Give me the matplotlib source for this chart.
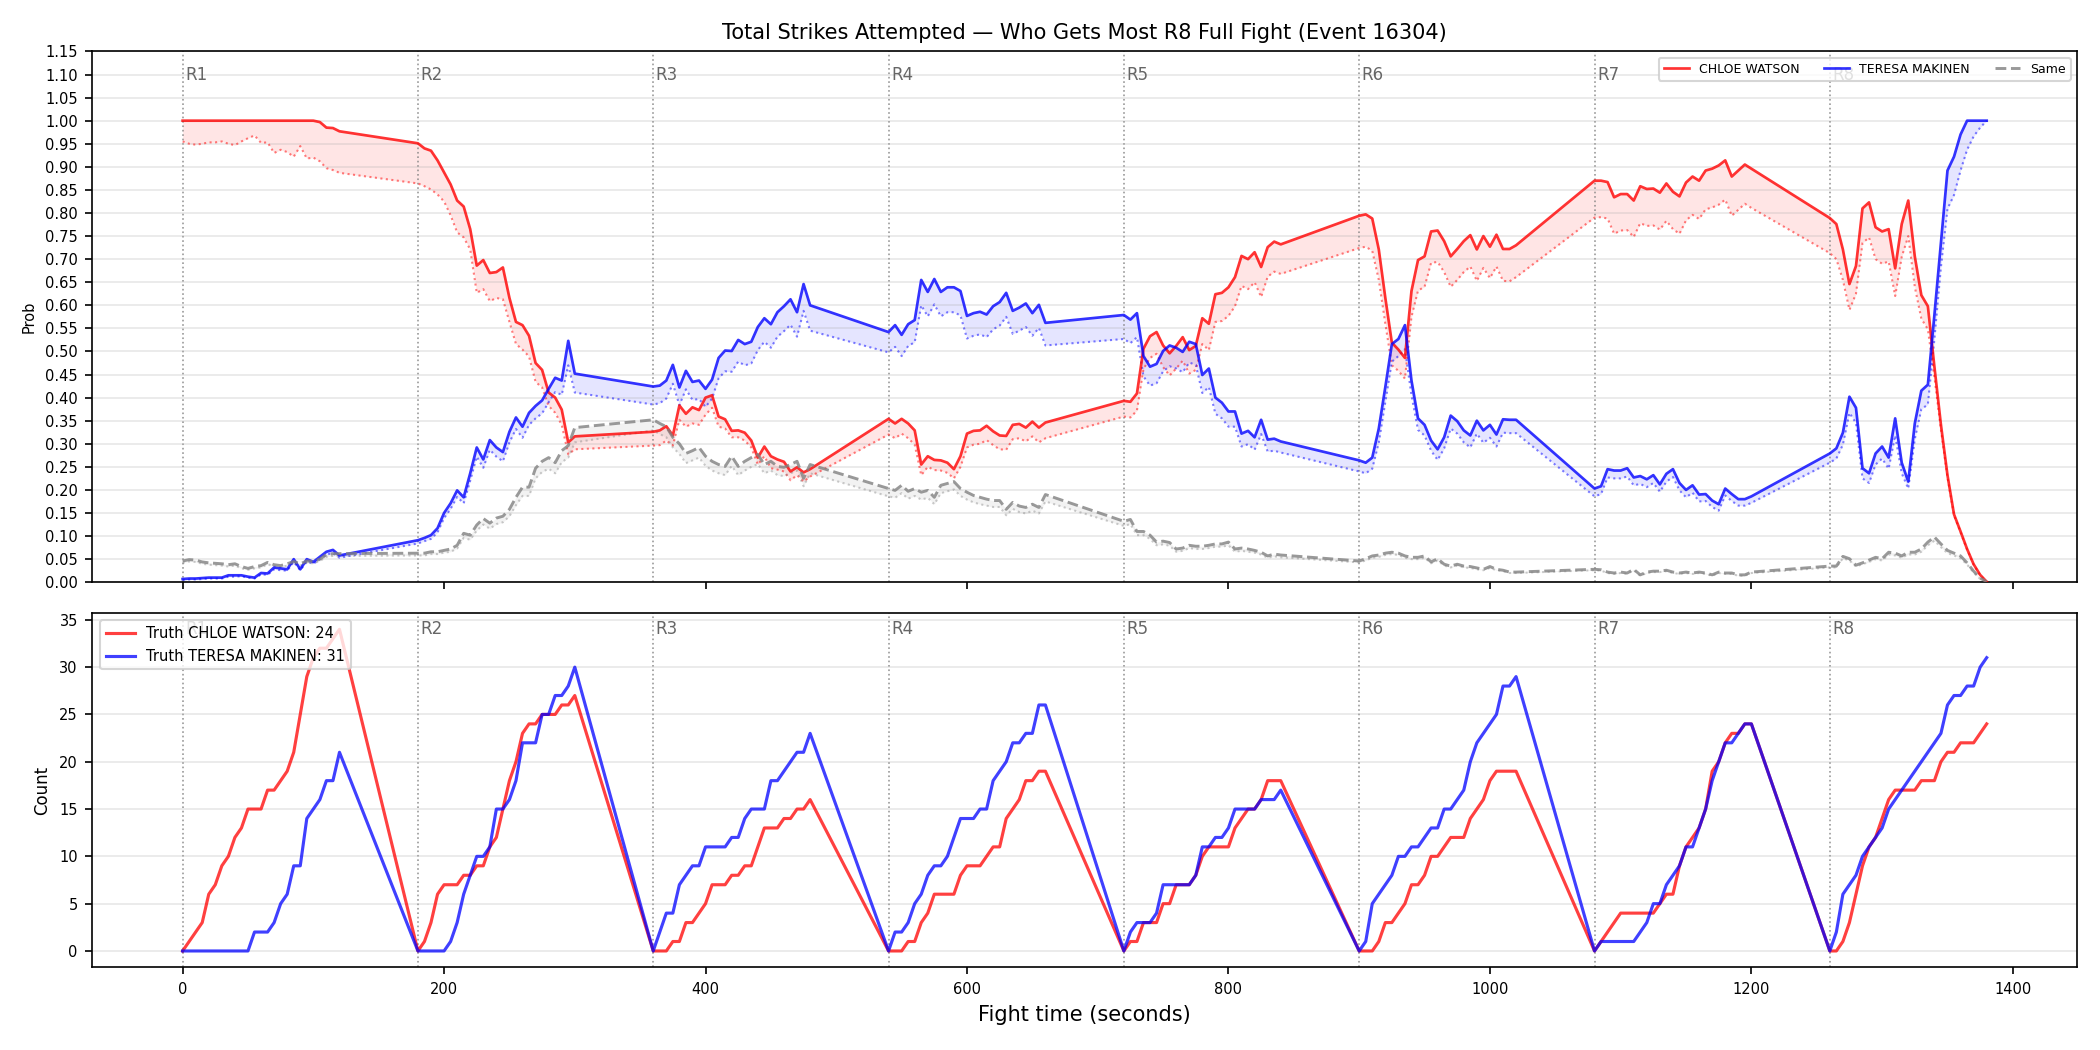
import numpy as np
import matplotlib.pyplot as plt

# time grid: 8 rounds of 180 s, samples every 5 s over the first 120 s of each round
round_starts = [0, 180, 360, 540, 720, 900, 1080, 1260]
round_names = ["R1", "R2", "R3", "R4", "R5", "R6", "R7", "R8"]
sample_offsets = list(range(0, 121, 5))

name_a = "CHLOE WATSON"
name_b = "TERESA MAKINEN"

# win probability, CHLOE WATSON (solid) and its lower bound (dotted)
prob_a = [
    1.0, 1.0, 1.0, 1.0, 1.0, 1.0, 1.0, 1.0, 1.0, 1.0, 1.0, 1.0, 1.0, 1.0, 1.0, 1.0, 1.0, 1.0, 1.0, 1.0, 1.0, 0.997, 0.985, 0.984, 0.977,
    0.951, 0.940, 0.935, 0.914, 0.888, 0.862, 0.827, 0.814, 0.765, 0.686, 0.698, 0.670, 0.672, 0.682, 0.616, 0.564, 0.557, 0.534, 0.475, 0.460, 0.411, 0.400, 0.374, 0.303, 0.316,
    0.326, 0.329, 0.338, 0.318, 0.383, 0.365, 0.379, 0.373, 0.400, 0.405, 0.359, 0.353, 0.328, 0.329, 0.324, 0.307, 0.270, 0.294, 0.273, 0.266, 0.261, 0.240, 0.249, 0.238, 0.245,
    0.354, 0.344, 0.354, 0.344, 0.329, 0.255, 0.273, 0.265, 0.264, 0.259, 0.245, 0.273, 0.322, 0.328, 0.329, 0.339, 0.327, 0.318, 0.317, 0.341, 0.343, 0.335, 0.348, 0.335, 0.346,
    0.393, 0.391, 0.409, 0.506, 0.533, 0.542, 0.513, 0.496, 0.512, 0.531, 0.503, 0.512, 0.572, 0.560, 0.624, 0.627, 0.639, 0.661, 0.707, 0.700, 0.715, 0.683, 0.726, 0.738, 0.732,
    0.794, 0.797, 0.788, 0.721, 0.616, 0.519, 0.504, 0.486, 0.631, 0.698, 0.706, 0.760, 0.762, 0.739, 0.706, 0.722, 0.739, 0.752, 0.721, 0.750, 0.727, 0.753, 0.722, 0.722, 0.730,
    0.870, 0.870, 0.867, 0.834, 0.841, 0.841, 0.827, 0.858, 0.852, 0.853, 0.844, 0.864, 0.846, 0.836, 0.866, 0.879, 0.870, 0.892, 0.896, 0.903, 0.914, 0.879, 0.892, 0.905, 0.896,
    0.789, 0.776, 0.721, 0.646, 0.685, 0.810, 0.823, 0.769, 0.760, 0.765, 0.680, 0.776, 0.827, 0.706, 0.622, 0.598, 0.467, 0.341, 0.232, 0.147, 0.110, 0.072, 0.039, 0.016, 0.001,
]
low_a = [
    0.955, 0.950, 0.948, 0.950, 0.953, 0.953, 0.955, 0.950, 0.947, 0.955, 0.962, 0.968, 0.952, 0.953, 0.930, 0.937, 0.932, 0.922, 0.945, 0.918, 0.920, 0.912, 0.897, 0.893, 0.887,
    0.864, 0.858, 0.851, 0.840, 0.825, 0.795, 0.758, 0.747, 0.721, 0.627, 0.635, 0.609, 0.616, 0.613, 0.564, 0.516, 0.504, 0.489, 0.434, 0.422, 0.382, 0.367, 0.341, 0.277, 0.288,
    0.296, 0.297, 0.307, 0.296, 0.352, 0.337, 0.344, 0.341, 0.363, 0.378, 0.337, 0.333, 0.314, 0.314, 0.307, 0.292, 0.255, 0.273, 0.247, 0.244, 0.240, 0.221, 0.232, 0.218, 0.229,
    0.320, 0.312, 0.322, 0.312, 0.298, 0.232, 0.250, 0.243, 0.242, 0.237, 0.225, 0.250, 0.292, 0.298, 0.300, 0.308, 0.297, 0.288, 0.287, 0.310, 0.312, 0.305, 0.316, 0.303, 0.312,
    0.359, 0.357, 0.372, 0.462, 0.486, 0.495, 0.466, 0.448, 0.463, 0.480, 0.452, 0.460, 0.516, 0.503, 0.564, 0.566, 0.577, 0.598, 0.642, 0.635, 0.650, 0.618, 0.662, 0.673, 0.668,
    0.724, 0.727, 0.718, 0.655, 0.560, 0.470, 0.458, 0.441, 0.575, 0.632, 0.640, 0.692, 0.694, 0.672, 0.640, 0.655, 0.672, 0.684, 0.653, 0.681, 0.659, 0.684, 0.653, 0.652, 0.661,
    0.790, 0.791, 0.788, 0.755, 0.762, 0.763, 0.748, 0.778, 0.772, 0.773, 0.764, 0.783, 0.765, 0.755, 0.784, 0.796, 0.787, 0.808, 0.812, 0.818, 0.829, 0.794, 0.807, 0.820, 0.811,
    0.713, 0.700, 0.655, 0.590, 0.625, 0.735, 0.747, 0.700, 0.690, 0.695, 0.620, 0.705, 0.750, 0.640, 0.571, 0.548, 0.445, 0.330, 0.227, 0.145, 0.108, 0.071, 0.038, 0.015, 0.001,
]

# win probability, TERESA MAKINEN
prob_b = [
    0.007, 0.008, 0.008, 0.009, 0.010, 0.010, 0.010, 0.015, 0.015, 0.015, 0.012, 0.010, 0.020, 0.019, 0.032, 0.030, 0.028, 0.050, 0.028, 0.050, 0.044, 0.055, 0.066, 0.070, 0.058,
    0.091, 0.096, 0.102, 0.117, 0.150, 0.171, 0.199, 0.184, 0.236, 0.292, 0.266, 0.308, 0.292, 0.282, 0.326, 0.357, 0.337, 0.367, 0.382, 0.394, 0.419, 0.443, 0.437, 0.523, 0.452,
    0.424, 0.426, 0.437, 0.471, 0.422, 0.458, 0.434, 0.437, 0.419, 0.439, 0.486, 0.502, 0.501, 0.525, 0.516, 0.521, 0.553, 0.572, 0.559, 0.585, 0.598, 0.613, 0.585, 0.646, 0.600,
    0.542, 0.557, 0.536, 0.559, 0.568, 0.655, 0.629, 0.657, 0.629, 0.639, 0.639, 0.631, 0.577, 0.583, 0.586, 0.580, 0.598, 0.607, 0.627, 0.588, 0.595, 0.604, 0.583, 0.601, 0.562,
    0.579, 0.569, 0.583, 0.490, 0.467, 0.473, 0.501, 0.513, 0.508, 0.499, 0.521, 0.516, 0.449, 0.463, 0.400, 0.389, 0.370, 0.370, 0.322, 0.328, 0.314, 0.352, 0.309, 0.311, 0.305,
    0.264, 0.259, 0.270, 0.333, 0.423, 0.516, 0.527, 0.557, 0.437, 0.355, 0.341, 0.307, 0.288, 0.314, 0.361, 0.349, 0.329, 0.318, 0.350, 0.329, 0.341, 0.320, 0.353, 0.352, 0.352,
    0.203, 0.208, 0.245, 0.242, 0.242, 0.247, 0.227, 0.230, 0.223, 0.232, 0.212, 0.235, 0.245, 0.215, 0.200, 0.210, 0.190, 0.191, 0.177, 0.169, 0.203, 0.191, 0.180, 0.180, 0.186,
    0.279, 0.290, 0.324, 0.402, 0.378, 0.247, 0.236, 0.279, 0.294, 0.270, 0.355, 0.259, 0.218, 0.344, 0.415, 0.428, 0.579, 0.735, 0.892, 0.922, 0.970, 1.000, 1.000, 1.000, 1.000,
]
low_b = [
    0.005, 0.006, 0.006, 0.007, 0.008, 0.008, 0.008, 0.012, 0.012, 0.013, 0.010, 0.008, 0.017, 0.016, 0.028, 0.026, 0.025, 0.044, 0.026, 0.045, 0.040, 0.050, 0.060, 0.063, 0.053,
    0.084, 0.089, 0.094, 0.108, 0.139, 0.159, 0.185, 0.171, 0.220, 0.272, 0.248, 0.287, 0.272, 0.262, 0.303, 0.332, 0.313, 0.341, 0.355, 0.366, 0.390, 0.412, 0.406, 0.470, 0.411,
    0.385, 0.388, 0.398, 0.430, 0.384, 0.418, 0.395, 0.397, 0.380, 0.398, 0.442, 0.457, 0.456, 0.478, 0.470, 0.474, 0.503, 0.521, 0.508, 0.532, 0.544, 0.558, 0.532, 0.588, 0.545,
    0.498, 0.510, 0.490, 0.512, 0.520, 0.600, 0.576, 0.602, 0.576, 0.585, 0.585, 0.578, 0.528, 0.534, 0.537, 0.531, 0.548, 0.556, 0.575, 0.538, 0.545, 0.553, 0.534, 0.551, 0.513,
    0.527, 0.518, 0.531, 0.446, 0.426, 0.431, 0.457, 0.468, 0.463, 0.455, 0.476, 0.471, 0.410, 0.423, 0.365, 0.355, 0.337, 0.337, 0.294, 0.299, 0.287, 0.321, 0.283, 0.285, 0.281,
    0.240, 0.236, 0.246, 0.303, 0.390, 0.478, 0.490, 0.505, 0.405, 0.330, 0.318, 0.285, 0.265, 0.290, 0.333, 0.322, 0.303, 0.292, 0.322, 0.302, 0.313, 0.294, 0.324, 0.323, 0.323,
    0.186, 0.191, 0.227, 0.225, 0.225, 0.229, 0.210, 0.213, 0.206, 0.215, 0.196, 0.218, 0.228, 0.199, 0.184, 0.194, 0.175, 0.176, 0.163, 0.155, 0.188, 0.176, 0.166, 0.166, 0.172,
    0.259, 0.268, 0.298, 0.367, 0.345, 0.225, 0.215, 0.255, 0.268, 0.246, 0.318, 0.236, 0.203, 0.310, 0.375, 0.385, 0.527, 0.683, 0.809, 0.839, 0.892, 0.937, 0.966, 0.985, 1.000,
]

# probability both end up the same
prob_same = [
    0.046, 0.049, 0.048, 0.044, 0.042, 0.041, 0.040, 0.038, 0.040, 0.034, 0.030, 0.034, 0.036, 0.043, 0.038, 0.036, 0.040, 0.045, 0.040, 0.046, 0.045, 0.050, 0.060, 0.062, 0.062,
    0.063, 0.063, 0.066, 0.066, 0.069, 0.072, 0.080, 0.106, 0.102, 0.124, 0.138, 0.128, 0.139, 0.143, 0.158, 0.184, 0.206, 0.206, 0.247, 0.262, 0.270, 0.259, 0.285, 0.296, 0.335,
    0.352, 0.344, 0.337, 0.314, 0.300, 0.279, 0.285, 0.292, 0.273, 0.262, 0.255, 0.251, 0.273, 0.251, 0.262, 0.270, 0.277, 0.255, 0.262, 0.251, 0.249, 0.255, 0.262, 0.225, 0.255,
    0.203, 0.199, 0.210, 0.197, 0.203, 0.195, 0.199, 0.184, 0.210, 0.214, 0.218, 0.203, 0.195, 0.188, 0.184, 0.180, 0.177, 0.177, 0.158, 0.173, 0.165, 0.162, 0.169, 0.162, 0.190,
    0.132, 0.136, 0.110, 0.110, 0.102, 0.087, 0.089, 0.086, 0.072, 0.074, 0.080, 0.078, 0.078, 0.080, 0.083, 0.083, 0.087, 0.072, 0.074, 0.072, 0.069, 0.065, 0.057, 0.061, 0.059,
    0.046, 0.051, 0.057, 0.059, 0.063, 0.065, 0.063, 0.057, 0.054, 0.054, 0.057, 0.044, 0.051, 0.039, 0.035, 0.039, 0.035, 0.034, 0.031, 0.028, 0.034, 0.028, 0.026, 0.022, 0.022,
    0.028, 0.027, 0.022, 0.020, 0.022, 0.020, 0.028, 0.016, 0.022, 0.024, 0.024, 0.026, 0.022, 0.020, 0.022, 0.020, 0.022, 0.020, 0.016, 0.022, 0.020, 0.020, 0.016, 0.016, 0.022,
    0.035, 0.035, 0.056, 0.051, 0.037, 0.042, 0.048, 0.054, 0.051, 0.065, 0.063, 0.057, 0.065, 0.065, 0.072, 0.087, 0.098, 0.083, 0.069, 0.063, 0.057, 0.042, 0.024, 0.009, 0.001,
]
low_same = [
    0.042, 0.045, 0.044, 0.040, 0.038, 0.037, 0.036, 0.034, 0.036, 0.030, 0.027, 0.030, 0.032, 0.039, 0.034, 0.032, 0.036, 0.041, 0.036, 0.042, 0.041, 0.046, 0.055, 0.057, 0.057,
    0.058, 0.058, 0.061, 0.061, 0.064, 0.066, 0.073, 0.096, 0.092, 0.112, 0.125, 0.116, 0.126, 0.130, 0.143, 0.167, 0.187, 0.187, 0.225, 0.239, 0.246, 0.236, 0.260, 0.270, 0.303,
    0.329, 0.321, 0.314, 0.292, 0.278, 0.258, 0.264, 0.270, 0.252, 0.242, 0.236, 0.232, 0.252, 0.232, 0.242, 0.250, 0.256, 0.236, 0.242, 0.232, 0.230, 0.236, 0.242, 0.208, 0.236,
    0.186, 0.183, 0.193, 0.181, 0.187, 0.179, 0.183, 0.169, 0.193, 0.197, 0.201, 0.187, 0.179, 0.173, 0.169, 0.166, 0.163, 0.163, 0.145, 0.159, 0.152, 0.149, 0.155, 0.149, 0.175,
    0.122, 0.126, 0.102, 0.102, 0.094, 0.080, 0.082, 0.079, 0.066, 0.068, 0.074, 0.072, 0.072, 0.074, 0.077, 0.077, 0.080, 0.066, 0.068, 0.066, 0.064, 0.060, 0.053, 0.056, 0.054,
    0.043, 0.047, 0.053, 0.055, 0.059, 0.061, 0.059, 0.053, 0.050, 0.050, 0.053, 0.041, 0.047, 0.036, 0.032, 0.036, 0.032, 0.031, 0.028, 0.026, 0.031, 0.026, 0.024, 0.020, 0.020,
    0.026, 0.025, 0.020, 0.018, 0.020, 0.018, 0.026, 0.014, 0.020, 0.022, 0.022, 0.024, 0.020, 0.018, 0.020, 0.018, 0.020, 0.018, 0.014, 0.020, 0.018, 0.018, 0.014, 0.014, 0.020,
    0.032, 0.032, 0.052, 0.047, 0.034, 0.039, 0.044, 0.050, 0.047, 0.060, 0.058, 0.053, 0.060, 0.060, 0.066, 0.080, 0.090, 0.076, 0.063, 0.058, 0.052, 0.038, 0.021, 0.007, 0.000,
]

# running strike counts within each round
count_a = [
    0, 1, 2, 3, 6, 7, 9, 10, 12, 13, 15, 15, 15, 17, 17, 18, 19, 21, 25, 29, 31, 32, 32, 33, 34,
    0, 1, 3, 6, 7, 7, 7, 8, 8, 9, 9, 11, 12, 15, 18, 20, 23, 24, 24, 25, 25, 25, 26, 26, 27,
    0, 0, 0, 1, 1, 3, 3, 4, 5, 7, 7, 7, 8, 8, 9, 9, 11, 13, 13, 13, 14, 14, 15, 15, 16,
    0, 0, 0, 1, 1, 3, 4, 6, 6, 6, 6, 8, 9, 9, 9, 10, 11, 11, 14, 15, 16, 18, 18, 19, 19,
    0, 1, 1, 3, 3, 3, 5, 5, 7, 7, 7, 8, 10, 11, 11, 11, 11, 13, 14, 15, 15, 16, 18, 18, 18,
    0, 0, 0, 1, 3, 3, 4, 5, 7, 7, 8, 10, 10, 11, 12, 12, 12, 14, 15, 16, 18, 19, 19, 19, 19,
    0, 1, 2, 3, 4, 4, 4, 4, 4, 4, 5, 6, 6, 9, 11, 12, 13, 15, 19, 20, 22, 23, 23, 24, 24,
    0, 0, 1, 3, 6, 9, 11, 12, 14, 16, 17, 17, 17, 17, 18, 18, 18, 20, 21, 21, 22, 22, 22, 23, 24,
]
count_b = [
    0, 0, 0, 0, 0, 0, 0, 0, 0, 0, 0, 2, 2, 2, 3, 5, 6, 9, 9, 14, 15, 16, 18, 18, 21,
    0, 0, 0, 0, 0, 1, 3, 6, 8, 10, 10, 11, 15, 15, 16, 18, 22, 22, 22, 25, 25, 27, 27, 28, 30,
    0, 2, 4, 4, 7, 8, 9, 9, 11, 11, 11, 11, 12, 12, 14, 15, 15, 15, 18, 18, 19, 20, 21, 21, 23,
    0, 2, 2, 3, 5, 6, 8, 9, 9, 10, 12, 14, 14, 14, 15, 15, 18, 19, 20, 22, 22, 23, 23, 26, 26,
    0, 2, 3, 3, 3, 4, 7, 7, 7, 7, 7, 8, 11, 11, 12, 12, 13, 15, 15, 15, 15, 16, 16, 16, 17,
    0, 1, 5, 6, 7, 8, 10, 10, 11, 11, 12, 13, 13, 15, 15, 16, 17, 20, 22, 23, 24, 25, 28, 28, 29,
    0, 1, 1, 1, 1, 1, 1, 2, 3, 5, 5, 7, 8, 9, 11, 11, 13, 15, 18, 20, 22, 22, 23, 24, 24,
    0, 2, 6, 7, 8, 10, 11, 12, 13, 15, 16, 17, 18, 19, 20, 21, 22, 23, 26, 27, 27, 28, 28, 30, 31,
]

t = np.concatenate([[s + o for o in sample_offsets] for s in round_starts])

fig, (ax1, ax2) = plt.subplots(2, 1, figsize=(14, 7), dpi=150, sharex=True,
                               gridspec_kw={"height_ratios": [3, 2]})
fig.subplots_adjust(left=0.044, right=0.989, top=0.951, bottom=0.079, hspace=0.07)

# --- top: probabilities
series = [(prob_a, low_a, "red", "-", name_a),
          (prob_b, low_b, "blue", "-", name_b),
          (prob_same, low_same, "gray", "--", "Same")]
for main, low, col, ls, lab in series:
    if lab == "Same":
        ax1.plot(t, main, color=col, ls=ls, lw=1.4, alpha=0.8, label=lab, zorder=3)
        ax1.plot(t, low, color=col, ls=":", lw=1.0, alpha=0.4, zorder=2)
    else:
        ax1.plot(t, main, color=col, ls=ls, lw=1.3, alpha=0.8, label=lab, zorder=3)
        ax1.plot(t, low, color=col, ls=":", lw=1.0, alpha=0.5, zorder=2)
    ax1.fill_between(t, low, main, color=col, alpha=0.1, lw=0)

ax1.set_ylim(0, 1.15)
ax1.set_yticks(np.arange(0, 1.151, 0.05))
ax1.set_yticklabels([f"{v:.2f}" for v in np.arange(0, 1.151, 0.05)])
ax1.set_ylabel("Prob", fontsize=7)
ax1.tick_params(labelsize=7)
ax1.grid(axis="y", alpha=0.3)
ax1.set_title("Total Strikes Attempted \u2014 Who Gets Most R8 Full Fight (Event 16304)", fontsize=10)

# --- bottom: counts
ax2.plot(t, count_a, color="red", lw=1.5, alpha=0.75, label=f"Truth {name_a}: {count_a[-1]}")
ax2.plot(t, count_b, color="blue", lw=1.5, alpha=0.75, label=f"Truth {name_b}: {count_b[-1]}")
ax2.set_ylabel("Count", fontsize=8)
ax2.set_xlabel("Fight time (seconds)", fontsize=10)
ax2.tick_params(labelsize=7)
ax2.grid(axis="y", alpha=0.3)

# round markers
for ax in (ax1, ax2):
    for s, nm in zip(round_starts, round_names):
        ax.axvline(s, color="gray", ls=":", lw=0.8, alpha=0.8, zorder=1)
        ax.text(s + 2, 0.955, nm, transform=ax.get_xaxis_transform(), fontsize=8,
                color="#666666", ha="left", va="center")

ax1.legend(loc="upper right", ncol=3, fontsize=6)
ax2.legend(loc="upper left", fontsize=7)

fig.savefig("out.png", dpi=150)
